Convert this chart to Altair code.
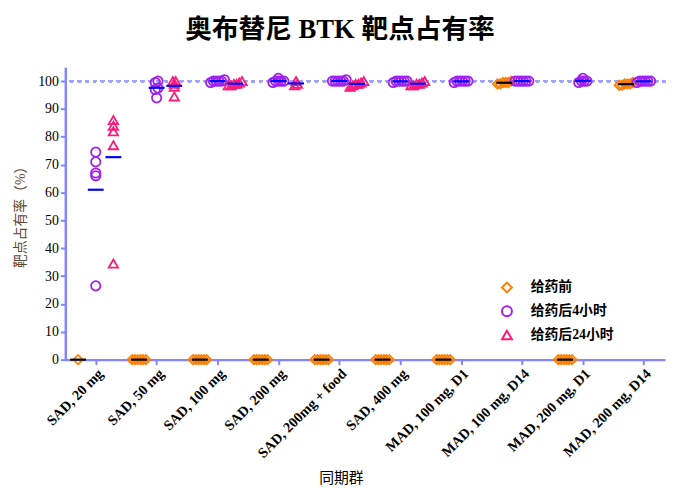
import altair as alt
import pandas as pd

cohorts = ["SAD, 20 mg", "SAD, 50 mg", "SAD, 100 mg", "SAD, 200 mg", "SAD, 200mg + food",
           "SAD, 400 mg", "MAD, 100 mg, D1", "MAD, 100 mg, D14", "MAD, 200 mg, D1", "MAD, 200 mg, D14"]
series = ["给药前", "给药后4小时", "给药后24小时"]

pre_dose = [
    [0],
    [0, 0, 0, 0, 0, 0],
    [0, 0, 0, 0, 0, 0],
    [0, 0, 0, 0, 0, 0],
    [0, 0, 0, 0, 0, 0],
    [0, 0, 0, 0, 0, 0],
    [0, 0, 0, 0, 0, 0],
    [99.5, 99.5, 100, 99, 99.5, 99],
    [0, 0, 0, 0, 0, 0],
    [99, 98.5, 99.5, 99, 99, 98.5],
]
post_4h = [
    [74.5, 71, 67, 66, 26.5],
    [100, 99.5, 97.5, 97, 94],
    [100, 100, 100.5, 100, 99.5, 100],
    [100, 100, 101, 100, 99.5, 100],
    [100, 100, 100, 100, 100.5, 100],
    [100, 100, 100, 99.5, 100, 100],
    [100, 100, 100, 100, 99.5, 100],
    [100, 100, 100, 100, 100, 100],
    [100, 99.5, 101, 100, 100],
    [100, 100, 100, 99.5, 100, 100],
]
post_24h = [
    [86, 84, 82, 77, 34.5],
    [100, 100, 99, 98, 94.5],
    [99.5, 99, 98.5, 99, 100, 98.5],
    [100, 99, 98.5],
    [99, 98.5, 99.5, 98, 99, 100],
    [99, 98.5, 99.5, 99, 100, 98.5],
    [], [], [], [],
]

series_offset = {series[0]: -0.29, series[1]: 0.0, series[2]: 0.29}
spread = 0.045

rows = []
for s, groups in zip(series, [pre_dose, post_4h, post_24h]):
    for ci, vals in enumerate(groups):
        order = sorted(range(len(vals)), key=lambda k: vals[k])
        clusters, cur = [], []
        for k in order:
            if cur and vals[k] - vals[cur[-1]] >= 1.0:
                clusters.append(cur)
                cur = []
            cur.append(k)
        if cur:
            clusters.append(cur)
        for cl in clusters:
            n = len(cl)
            for j, k in enumerate(cl):
                rows.append({
                    "ci": ci, "series": s, "so": series_offset[s], "value": vals[k],
                    "x": ci + series_offset[s] + (j - (n - 1) / 2) * spread,
                })
df = pd.DataFrame(rows)

SERIF = "Liberation Serif, Noto Sans CJK SC"
AX = "#8585ff"

label_expr = "[" + ",".join("'" + c + "'" for c in cohorts) + "][datum.value]"

xscale = alt.Scale(domain=[-0.5, 9.35], nice=False, zero=False)
yscale = alt.Scale(domain=[0, 105], nice=False)

xaxis = alt.Axis(values=list(range(10)), labelExpr=label_expr, labelAngle=-45,
                 labelOverlap=False, labelFont=SERIF, labelFontWeight="bold",
                 labelFontSize=14.5, labelColor="black", title="同期群", titleFont=SERIF,
                 titleFontSize=15, titleFontWeight="normal", titleColor="black",
                 titleX=279, titleY=112)
yaxis = alt.Axis(values=list(range(0, 101, 10)), labelOverlap=False,
                 title="靶点占有率（%）",
                 titleFont=SERIF, titleFontSize=14, titleFontWeight="normal",
                 titleColor="#5a4636", labelFont=SERIF, labelFontSize=14,
                 labelColor="black", titlePadding=10)

base = alt.Chart(df)

legend = alt.Legend(title=None, orient="none", legendX=440, legendY=216,
                    labelFont=SERIF, labelFontWeight="bold", labelFontSize=14,
                    labelColor="black", symbolStrokeWidth=2, symbolSize=100,
                    rowPadding=6, labelOffset=17)

points = base.mark_point(filled=False, size=90, strokeWidth=1.8, opacity=1).encode(
    x=alt.X("x:Q", scale=xscale, axis=xaxis),
    y=alt.Y("value:Q", scale=yscale, axis=yaxis),
    color=alt.Color("series:N", scale=alt.Scale(domain=series, range=["#ff8000", "#a020f0", "#ff1a7a"]),
                    legend=legend),
    shape=alt.Shape("series:N", scale=alt.Scale(domain=series, range=["diamond", "circle", "triangle-up"]),
                    legend=legend),
)

ref_line = alt.Chart(df).mark_rule(strokeDash=[2, 6], strokeCap="round", color="#a0a0ff",
                                   strokeWidth=2.2).encode(
    y=alt.YDatum(100, scale=yscale, axis=yaxis)
)

def mean_rule(filter_expr, color):
    return base.transform_filter(filter_expr).transform_aggregate(
        mean="mean(value)", groupby=["ci", "series", "so"]
    ).transform_calculate(
        x1="datum.ci + datum.so - 0.13", x2="datum.ci + datum.so + 0.13"
    ).mark_rule(color=color, strokeWidth=2.2).encode(
        x=alt.X("x1:Q", scale=xscale, axis=xaxis), x2="x2:Q",
        y=alt.Y("mean:Q", scale=yscale, axis=yaxis)
    )

pre_mean = mean_rule("datum.series == '给药前'", "black")
post_mean = mean_rule("datum.series != '给药前'", "#0000ff")

chart = alt.layer(ref_line, points, pre_mean, post_mean).properties(
    width=607, height=296,
    padding={"left": 6, "top": 5, "right": 0, "bottom": 0},
    title=alt.TitleParams("奥布替尼 BTK 靶点占有率", font=SERIF, fontSize=27, fontWeight="bold",
                          color="black", anchor="middle", frame="bounds", offset=24),
).configure_view(stroke=None).configure_axis(
    grid=False, domainColor=AX, domainWidth=2.5, tickColor=AX, tickWidth=2, tickSize=5,
)

chart.save("out.html", embed_options={"renderer": "svg", "actions": False})
